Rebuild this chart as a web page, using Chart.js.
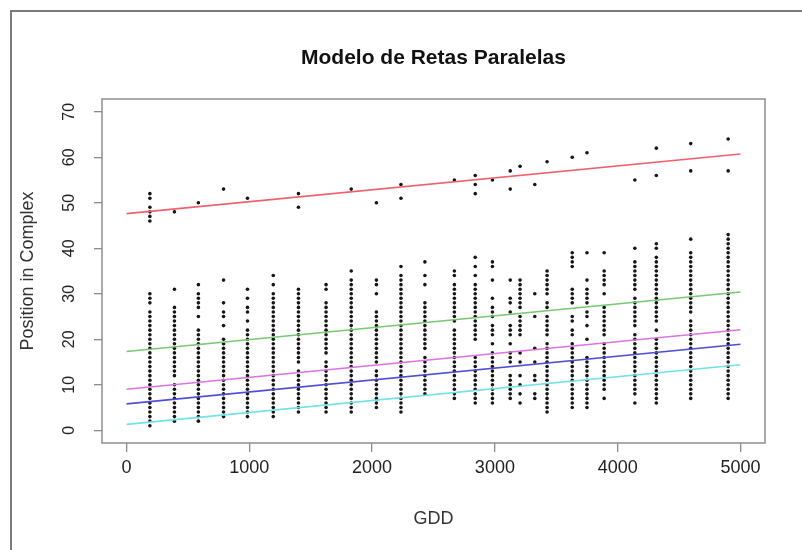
<!DOCTYPE html>
<html>
<head>
<meta charset="utf-8">
<script src="https://cdn.jsdelivr.net/npm/chart.js@4.4.1/dist/chart.umd.min.js"></script>
<style>
  html, body { margin: 0; padding: 0; background: #fff; overflow: hidden; }
  canvas { display: block; }
</style>
</head>
<body>
<canvas id="chart" width="802" height="550"></canvas>
<script>
// GDD of each sampling column (lower cluster)
const gdd = [190, 390, 585, 790, 985, 1195, 1400, 1625, 1830, 2035, 2235, 2430, 2670,
             2840, 2980, 3125, 3205, 3325, 3425, 3630, 3750, 3890, 4140, 4315, 4595, 4900];

// Position in complex observed at each column (lower cluster)
const lowerGroup = [
  [30, 29, 28, 26, 25, 24, 23, 22, 21, 20, 19, 18, 17, 16, 15, 14, 13, 12, 11, 10, 9, 8, 7, 6, 5, 4, 3, 2, 1],
  [31, 27, 26, 25, 24, 23, 22, 21, 20, 19, 18, 17, 16, 15, 14, 13, 12, 10, 9, 8, 7, 6, 5, 4, 3, 2],
  [32, 30, 29, 28, 27, 25, 22, 21, 20, 19, 18, 17, 16, 15, 14, 13, 12, 11, 10, 9, 8, 7, 6, 5, 4, 3, 2],
  [33, 28, 26, 25, 23, 20, 19, 18, 17, 16, 15, 14, 13, 12, 11, 10, 9, 8, 7, 6, 5, 4, 3],
  [31, 29, 27, 26, 24, 22, 21, 20, 19, 18, 17, 16, 15, 14, 13, 12, 11, 10, 9, 8, 7, 6, 5, 4, 3],
  [34, 32, 30, 29, 28, 27, 26, 25, 24, 23, 22, 21, 20, 19, 18, 17, 16, 15, 14, 13, 12, 11, 10, 9, 8, 7, 6, 5, 4, 3],
  [31, 30, 29, 28, 27, 26, 25, 24, 23, 22, 21, 20, 19, 18, 17, 16, 15, 13, 12, 11, 10, 9, 8, 7, 6, 5, 4],
  [32, 31, 28, 27, 26, 25, 24, 23, 22, 21, 20, 19, 18, 17, 15, 14, 13, 12, 11, 10, 9, 8, 7, 6, 5, 4],
  [35, 33, 32, 31, 30, 29, 28, 27, 26, 25, 24, 23, 22, 21, 20, 19, 18, 17, 16, 15, 14, 13, 12, 11, 10, 9, 8, 7, 6, 5, 4],
  [33, 32, 30, 26, 25, 24, 23, 22, 21, 20, 19, 18, 17, 16, 15, 13, 12, 11, 10, 9, 8, 7, 6, 5],
  [36, 34, 33, 32, 31, 30, 29, 28, 27, 26, 25, 24, 23, 22, 21, 20, 19, 18, 17, 16, 15, 14, 13, 12, 11, 10, 9, 8, 7, 6, 5, 4],
  [37, 34, 32, 28, 27, 26, 25, 24, 23, 22, 21, 20, 19, 18, 16, 15, 14, 13, 12, 11, 10, 9, 8],
  [35, 34, 32, 31, 30, 29, 28, 27, 26, 25, 24, 22, 21, 20, 19, 18, 17, 16, 15, 14, 13, 12, 11, 10, 9, 8, 7],
  [38, 36, 34, 32, 31, 30, 29, 28, 27, 26, 25, 24, 23, 22, 21, 20, 16, 15, 14, 13, 12, 11, 10, 9, 8, 7, 6],
  [37, 36, 33, 29, 27, 26, 25, 23, 22, 21, 19, 17, 16, 15, 14, 13, 12, 11, 10, 9, 8, 7, 6],
  [33, 29, 28, 26, 23, 22, 21, 19, 17, 16, 15, 12, 11, 10, 9, 8, 7],
  [33, 32, 31, 30, 29, 28, 27, 25, 24, 23, 22, 21, 17, 15, 12, 10, 8, 6],
  [30, 25, 18, 15, 12, 11, 8, 7],
  [35, 34, 33, 32, 31, 30, 28, 27, 25, 24, 23, 22, 21, 19, 18, 17, 16, 15, 14, 13, 12, 11, 10, 9, 8, 7, 6, 5, 4],
  [39, 38, 37, 36, 31, 30, 29, 28, 25, 24, 22, 21, 19, 18, 17, 16, 15, 14, 13, 12, 11, 10, 9, 8, 7, 6, 5],
  [39, 33, 31, 30, 29, 28, 26, 25, 23, 20, 16, 15, 14, 13, 12, 11, 10, 9, 8, 7, 6, 5],
  [39, 35, 34, 33, 32, 30, 27, 26, 25, 24, 23, 22, 21, 19, 18, 17, 16, 15, 14, 13, 12, 11, 10, 9, 7],
  [40, 37, 36, 35, 34, 33, 32, 31, 29, 28, 27, 26, 25, 24, 23, 21, 20, 19, 18, 17, 16, 15, 14, 13, 12, 11, 10, 9, 8, 6],
  [41, 40, 38, 37, 36, 35, 34, 33, 32, 31, 30, 29, 28, 27, 26, 25, 24, 22, 20, 19, 18, 17, 16, 15, 14, 13, 12, 11, 10, 9, 8, 7, 6],
  [42, 39, 38, 37, 36, 35, 34, 33, 32, 31, 30, 29, 28, 27, 26, 24, 23, 22, 21, 20, 19, 18, 17, 16, 15, 14, 13, 12, 11, 10, 9, 8, 7],
  [43, 42, 41, 40, 39, 38, 37, 36, 35, 34, 33, 32, 31, 30, 29, 28, 27, 26, 25, 24, 23, 22, 21, 20, 19, 18, 17, 16, 15, 14, 13, 12, 11, 10, 9, 8, 7]
];

// Upper cluster: GDD of each column and positions observed there
const upperGdd = [190, 390, 585, 790, 985, 1400, 1830, 2035, 2235, 2670, 2840,
                  2980, 3125, 3205, 3325, 3425, 3630, 3750, 4140, 4315, 4595, 4900];
const upperGroup = [
  [52, 51, 49, 48, 47, 46], [48], [50], [53], [51], [52, 49], [53], [50], [54, 51], [55], [56, 54, 52],
  [55], [57, 53], [58], [54], [59], [60], [61], [55], [62, 56], [63, 57], [64, 57]
];

// Fitted parallel lines: value at GDD = 0 and at GDD = 5000
const lineGdd = [0, 5000];
const lineStart = [47.6, 17.3, 9.0, 5.8, 1.3];
const lineEnd = [60.7, 30.4, 22.1, 18.9, 14.4];
const lineColors = ['#ef5f6c', '#76c96f', '#dd72e4', '#4f4fd6', '#6fe3e6'];

// Axis ticks
const xTicks = [0, 1000, 2000, 3000, 4000, 5000];
const yTicks = [0, 10, 20, 30, 40, 50, 60, 70];

const FONT = '"Liberation Sans", Arial, Helvetica, sans-serif';

const points = [];
gdd.forEach((g, i) => lowerGroup[i].forEach(v => points.push({ x: g, y: v })));
upperGdd.forEach((g, i) => upperGroup[i].forEach(v => points.push({ x: g, y: v })));

const lineSets = lineStart.map((s, i) => ({
  data: [{ x: lineGdd[0], y: s }, { x: lineGdd[1], y: lineEnd[i] }],
  showLine: true,
  borderColor: lineColors[i],
  borderWidth: 1.6,
  pointRadius: 0,
  order: 0
}));

const frame = {
  id: 'frame',
  beforeDraw(chart) {
    const c = chart.ctx;
    c.save();
    c.fillStyle = '#fff';
    c.fillRect(0, 0, chart.width, chart.height);
    c.strokeStyle = '#7c7c7c';
    c.lineWidth = 2;
    c.beginPath();
    c.moveTo(11, chart.height);
    c.lineTo(11, 11);
    c.lineTo(chart.width, 11);
    c.stroke();
    c.restore();
  },
  afterDraw(chart) {
    const c = chart.ctx;
    const { left, top, right, bottom } = chart.chartArea;
    c.save();
    c.strokeStyle = '#8e8e8e';
    c.lineWidth = 1.5;
    c.strokeRect(left, top, right - left, bottom - top);
    c.fillStyle = '#111';
    c.font = 'bold 21px ' + FONT;
    c.textAlign = 'center';
    c.textBaseline = 'middle';
    c.fillText('Modelo de Retas Paralelas', (left + right) / 2, 58);
    c.restore();
  }
};

new Chart(document.getElementById('chart'), {
  type: 'scatter',
  data: {
    datasets: [
      ...lineSets,
      {
        data: points,
        pointRadius: 1.8,
        pointBackgroundColor: '#151515',
        pointBorderWidth: 0,
        order: 1
      }
    ]
  },
  options: {
    responsive: false,
    animation: false,
    devicePixelRatio: 1,
    layout: { padding: { left: 14, right: 37, top: 99, bottom: 20 } },
    plugins: {
      legend: { display: false },
      tooltip: { enabled: false },
      title: { display: false }
    },
    scales: {
      x: {
        type: 'linear',
        min: -200,
        max: 5200,
        afterBuildTicks: s => { s.ticks = xTicks.map(v => ({ value: v })); },
        afterFit: s => { s.height = 87; },
        border: { display: false },
        grid: { drawOnChartArea: false, drawTicks: true, tickLength: 9, color: '#8a8a8a', lineWidth: 1.3 },
        ticks: {
          autoSkip: false, maxRotation: 0, minRotation: 0, padding: 5,
          color: '#222', font: { family: FONT, size: 18 },
          callback: v => String(v)
        },
        title: {
          display: true, text: 'GDD', color: '#333',
          font: { family: FONT, size: 18 }, padding: { top: 0, bottom: 0 }
        }
      },
      y: {
        type: 'linear',
        min: -2.8,
        max: 72.8,
        afterBuildTicks: s => { s.ticks = yTicks.map(v => ({ value: v })); },
        afterFit: s => { s.width = 88; },
        border: { display: false },
        grid: { drawOnChartArea: false, drawTicks: true, tickLength: 8, color: '#8a8a8a', lineWidth: 1.3 },
        ticks: {
          autoSkip: false, minRotation: 90, maxRotation: 90, crossAlign: 'center', padding: 16,
          color: '#222', font: { family: FONT, size: 16 },
          callback: v => String(v)
        },
        title: {
          display: true, text: 'Position in Complex', color: '#333',
          font: { family: FONT, size: 18 }, padding: { top: 3, bottom: 0 }
        }
      }
    }
  },
  plugins: [frame]
});
</script>
</body>
</html>
